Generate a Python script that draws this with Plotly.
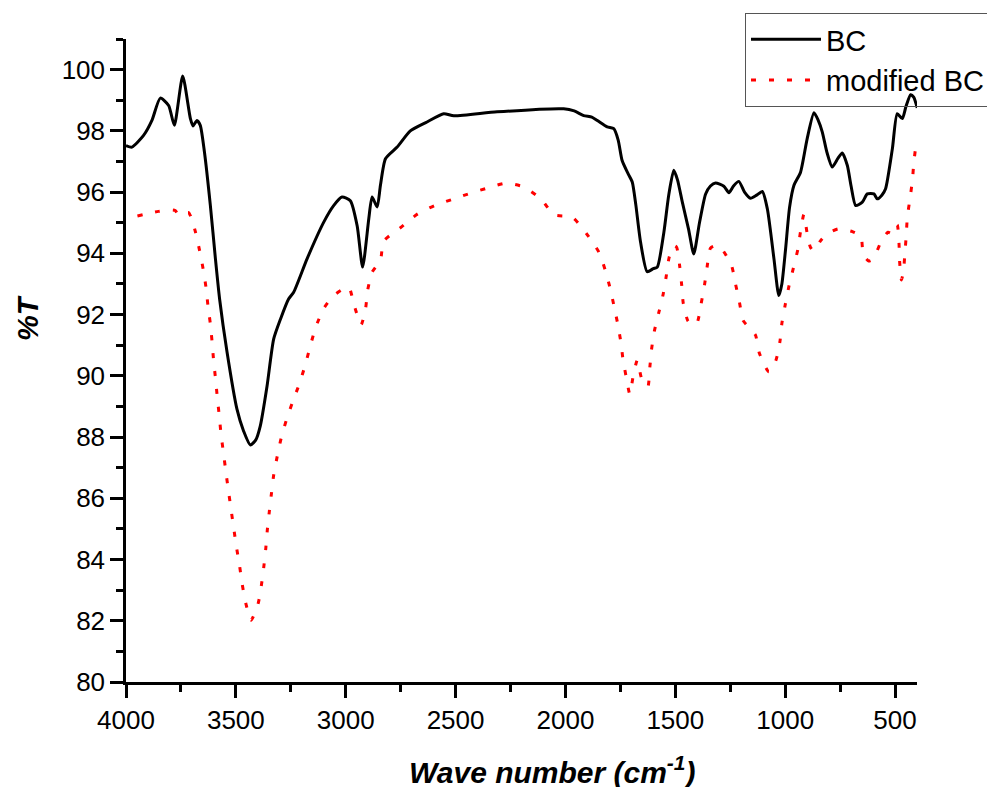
import plotly.graph_objects as go

# BC spectrum (wave number, %T)
bc_wn = [4000, 3973, 3920, 3882, 3844, 3806, 3780, 3742, 3707, 3695, 3677, 3662, 3643, 3616,
         3593, 3574, 3540, 3495, 3465, 3434, 3410, 3389, 3358, 3328, 3297, 3260, 3237, 3176,
         3100, 3055, 3017, 2979, 2948, 2923, 2895, 2880, 2857, 2842, 2819, 2766, 2706, 2630,
         2554, 2508, 2311, 2008, 1960, 1917, 1880, 1855, 1810, 1780, 1760, 1742, 1715, 1696,
         1680, 1658, 1628, 1600, 1582, 1552, 1530, 1507, 1490, 1468, 1440, 1416, 1390, 1362,
         1340, 1317, 1279, 1256, 1235, 1211, 1185, 1158, 1130, 1104, 1081, 1051, 1029, 1015,
         998, 980, 960, 930, 900, 869, 850, 831, 810, 786, 760, 740, 717, 700, 679, 649, 626,
         596, 581, 560, 543, 512, 490, 467, 450, 429, 415, 399]
bc_t = [97.52, 97.47, 97.85, 98.34, 99.07, 98.83, 98.18, 99.79, 98.40, 98.16, 98.34, 98.18,
        97.31, 95.56, 93.82, 92.51, 90.77, 88.91, 88.2, 87.74, 87.9, 88.36, 89.67, 91.2, 91.85,
        92.51, 92.73, 93.82, 95.02, 95.56, 95.84, 95.72, 94.9, 93.55, 95.13, 95.84, 95.51,
        96.22, 97.09, 97.47, 98.0, 98.29, 98.56, 98.49, 98.62, 98.72, 98.65, 98.5, 98.45,
        98.34, 98.13, 98.07, 97.7, 97.03, 96.6, 96.33, 95.6, 94.36, 93.4, 93.5, 93.55, 94.69,
        95.9, 96.71, 96.4, 95.67, 94.8, 93.98, 95.0, 95.94, 96.2, 96.3, 96.19, 95.98, 96.2,
        96.35, 96.0, 95.8, 95.9, 96.02, 95.45, 93.82, 92.62, 93.0, 94.15, 95.5, 96.22, 96.65,
        97.74, 98.59, 98.35, 97.96, 97.3, 96.82, 97.1, 97.28, 96.87, 96.2, 95.56, 95.67, 95.94,
        95.94, 95.78, 95.9, 96.11, 97.42, 98.56, 98.4, 98.8, 99.18, 99.1, 98.75]

# modified BC spectrum
mbc_wn = [3948, 3900, 3852, 3800, 3776, 3760, 3740, 3715, 3700, 3684, 3665, 3649, 3636, 3627,
          3616, 3608, 3601, 3592, 3584, 3575, 3567, 3556, 3545, 3534, 3522, 3510, 3498, 3484,
          3472, 3457, 3431, 3399, 3384, 3373, 3364, 3357, 3348, 3338, 3328, 3312, 3294, 3270,
          3241, 3210, 3184, 3161, 3137, 3100, 3058, 3020, 2986, 2961, 2930, 2910, 2900, 2880,
          2842, 2827, 2754, 2672, 2595, 2508, 2425, 2356, 2273, 2190, 2109, 2053, 1969, 1904,
          1848, 1818, 1795, 1777, 1760, 1746, 1739, 1724, 1707, 1692, 1673, 1654, 1625, 1616,
          1608, 1595, 1575, 1555, 1541, 1528, 1505, 1494, 1480, 1471, 1464, 1443, 1420, 1400,
          1382, 1367, 1355, 1340, 1315, 1291, 1244, 1226, 1208, 1191, 1160, 1135, 1117, 1074,
          1042, 1024, 1015, 1000, 983, 963, 942, 930, 915, 900, 885, 869, 840, 808, 758, 694,
          656, 644, 620, 599, 561, 532, 510, 490, 482, 479, 471, 462, 455, 449, 444, 432, 421,
          414, 403]
mbc_t = [95.22, 95.3, 95.37, 95.42, 95.4, 95.24, 95.3, 95.33, 95.1, 94.7, 94.09, 93.49, 92.89,
         92.29, 91.69, 91.09, 90.47, 89.87, 89.26, 88.66, 88.06, 87.46, 86.84, 86.26, 85.64,
         85.04, 84.44, 83.84, 83.24, 82.64, 82.02, 82.55, 83.15, 83.75, 84.35, 84.95, 85.55,
         86.16, 86.75, 87.36, 87.96, 88.56, 89.16, 89.76, 90.36, 90.98, 91.58, 92.2, 92.6, 92.8,
         92.89, 92.29, 91.67, 92.18, 92.8, 93.38, 93.78, 94.4, 94.82, 95.29, 95.56, 95.78, 95.98,
         96.13, 96.29, 96.17, 95.76, 95.26, 95.18, 94.64, 94.04, 93.43, 92.81, 92.21, 91.62,
         91.01, 90.58, 89.98, 89.4, 89.98, 90.51, 89.93, 89.65, 90.27, 90.87, 91.47, 92.07,
         92.67, 93.27, 93.87, 94.25, 94.2, 93.58, 92.97, 92.38, 91.8, 91.65, 91.75, 92.37,
         92.97, 93.57, 94.17, 94.25, 94.17, 93.6, 93.0, 92.4, 91.8, 91.55, 91.33, 90.73, 90.13,
         90.51, 91.11, 91.71, 92.31, 92.92, 93.51, 94.14, 94.72, 95.27, 94.66, 94.2, 94.08,
         94.4, 94.64, 94.8, 94.71, 94.56, 93.95, 93.75, 93.82, 94.42, 94.69, 94.64, 94.93,
         94.34, 93.73, 93.13, 93.4, 94.0, 94.58, 95.18, 95.78, 96.38, 97.0, 97.63]

x_ticks = [4000, 3500, 3000, 2500, 2000, 1500, 1000, 500]
y_ticks = [80, 82, 84, 86, 88, 90, 92, 94, 96, 98, 100]

FONT = 'Liberation Sans, Arial, sans-serif'

fig = go.Figure()

fig.add_trace(go.Scatter(x=bc_wn, y=bc_t, mode='lines', name='BC',
                         line=dict(color='black', width=3, shape='spline', smoothing=0.6)))
fig.add_trace(go.Scatter(x=mbc_wn, y=mbc_t, mode='lines', name='modified BC',
                         line=dict(color='#ff0000', width=3, dash='5px,13px',
                                   shape='spline', smoothing=0.6)))

axis_font = dict(family=FONT, size=26, color='black')

fig.update_xaxes(range=[4000, 400], tickvals=x_ticks, ticks='outside', ticklen=13,
                 tickwidth=2.5, tickcolor='black', showline=True, linewidth=2.5,
                 linecolor='black', showgrid=False, zeroline=False, tickfont=axis_font,
                 minor=dict(dtick=250, tick0=0, ticks='outside', ticklen=7, tickwidth=2.5,
                            tickcolor='black', showgrid=False))
fig.update_yaxes(range=[80, 101], tickvals=y_ticks, ticks='outside', ticklen=13,
                 tickwidth=2.5, tickcolor='black', showline=True, linewidth=2.5,
                 linecolor='black', showgrid=False, zeroline=False, tickfont=axis_font,
                 minor=dict(dtick=1, tick0=0, ticks='outside', ticklen=7, tickwidth=2.5,
                            tickcolor='black', showgrid=False))

# axis titles placed as annotations (the x title sits right of centre in the original)
fig.add_annotation(text='<b><i>Wave number (cm<sup>-1</sup>)</i></b>', xref='paper',
                   yref='paper', x=(552 - 126) / 791, y=-(770 - 682) / 643, showarrow=False,
                   xanchor='center', yanchor='middle',
                   font=dict(family=FONT, size=30, color='black'))
fig.add_annotation(text='<b><i>%T</i></b>', xref='paper', yref='paper',
                   x=-(126 - 28) / 791, y=(682 - 318) / 643, showarrow=False, textangle=-90,
                   xanchor='center', yanchor='middle',
                   font=dict(family=FONT, size=29, color='black'))

# the page body adds an 8px offset, so margins are shifted to compensate
fig.update_layout(width=995, height=787, plot_bgcolor='white', paper_bgcolor='white',
                  margin=dict(l=118, r=86, t=31, b=113, autoexpand=False),
                  legend=dict(x=(745 - 126) / 791, y=(682 - 13) / 643,
                              xanchor='left', yanchor='top',
                              bgcolor='rgba(255,255,255,0)', bordercolor='#555',
                              borderwidth=1,
                              font=dict(family=FONT, size=29, color='black'),
                              itemwidth=70, tracegroupgap=0))

fig.write_html("out.html")
